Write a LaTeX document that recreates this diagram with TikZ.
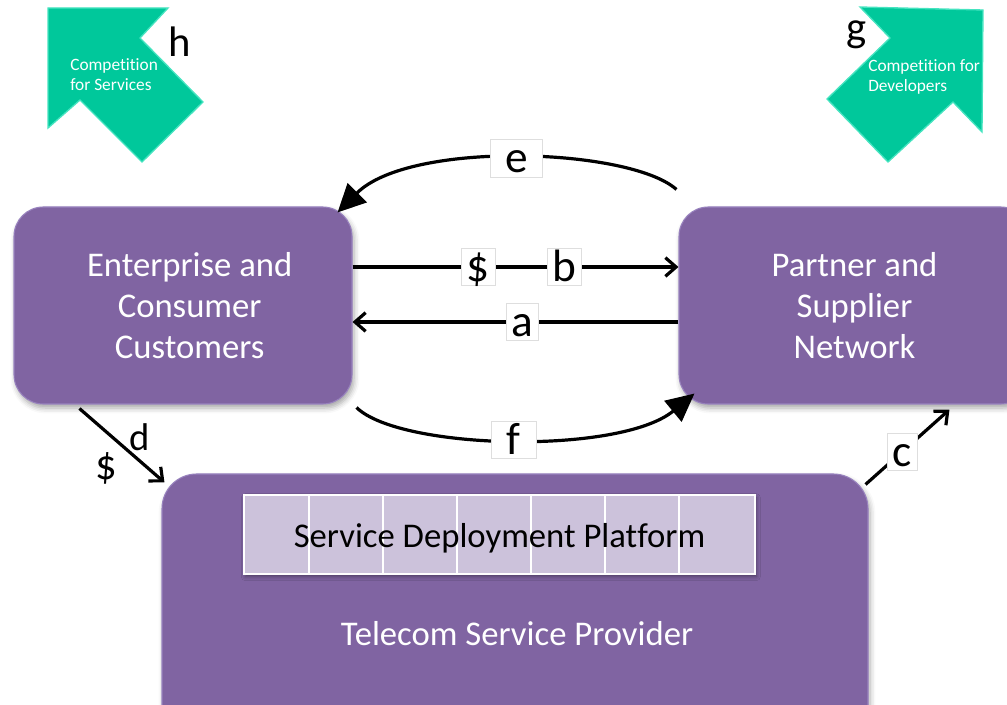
\documentclass[tikz,border=0pt]{standalone}
\usepackage{fontspec}
\setmainfont{Carlito}[Ligatures=NoCommon]
\usetikzlibrary{arrows.meta,calc,shadows.blur}

\definecolor{boxpurple}{RGB}{128,100,162}
\definecolor{boxrim}{RGB}{152,130,190}
\definecolor{platfill}{RGB}{204,194,219}
\definecolor{chevteal}{RGB}{0,200,155}
\definecolor{chevrim}{RGB}{70,228,192}
\definecolor{tagedge}{RGB}{222,222,222}

\begin{document}
\begin{tikzpicture}[x=0.75pt,y=-0.75pt,
  party/.style={draw=boxrim, line width=0.8pt, fill=boxpurple, rounded corners=22pt,
    text=white, font=\fontsize{26}{31}\selectfont, align=center, inner sep=0pt,
    blur shadow={shadow xshift=1.5pt, shadow yshift=-3pt, shadow blur radius=4pt, shadow opacity=35}},
  flow/.style={line width=2.4pt, -{Straight Barb[length=8pt,width=14pt]}},
  bigflow/.style={line width=2.4pt, -{Triangle[length=21pt,width=20pt]}},
  tag/.style={fill=white, draw=tagedge, line width=0.4pt, inner xsep=4pt, inner ysep=1pt,
    text height=24pt, text depth=2pt, font=\fontsize{34}{34}\selectfont},
  plain/.style={inner sep=0pt, font=\fontsize{32}{32}\selectfont},
  chevron/.style={fill=chevteal, draw=chevrim, line width=1pt, line join=miter},
  chevtext/.style={text=white, align=left, anchor=west, inner sep=0pt, font=\fontsize{13}{15}\selectfont},
]
\useasboundingbox (0,0) rectangle (1007,705);
\clip (0,0) rectangle (1007,705);

% competition chevrons
\draw[chevron] (48,8) -- (168,8) -- (140,38) -- (203,102) -- (142,162) -- (80,100) -- (48,128) -- cycle;
\draw[chevron] (860,7) -- (983,10) -- (982,132) -- (953,102) -- (888,162) -- (827,99) -- (890,38) -- cycle;
\node[chevtext] (servtxt) at (70,75) {Competition\\for Services};
\node[chevtext] (devtxt) at (868,77) {Competition for\\Developers};
\node[plain] (h) at (180,42) {h};
\node[plain] (g) at (857,35) {g};

% the three parties
\node[party, minimum width=253.5pt, minimum height=147.75pt] (ent) at (183,305.5)
  {\hspace*{10pt}Enterprise and\\\hspace*{10pt}Consumer\\\hspace*{10pt}Customers};
\node[party, minimum width=263.25pt, minimum height=147.75pt] (psn) at (854.5,305.5)
  {Partner and\\Supplier\\Network};
\node[party, rounded corners=26pt, minimum width=529.5pt, minimum height=199.5pt] (tsp) at (515,607) {};
\node[text=white, font=\fontsize{26}{31}\selectfont] (tsptxt) at (517,634) {Telecom Service Provider};

% service deployment platform with its seven slots
\node[fill=platfill, draw=white, line width=1.5pt, inner sep=0pt,
  minimum width=383.25pt, minimum height=59.25pt,
  blur shadow={shadow xshift=1pt, shadow yshift=-2pt, shadow blur radius=3pt, shadow opacity=40}]
  (plat) at (499.5,534.5) {};
\foreach \cx in {309,383,457,531,605,679}
  \draw[white, line width=1.2pt] (\cx,495) -- (\cx,574);
\node[font=\fontsize{26}{31}\selectfont] (plattxt) at ($(plat.center)+(0,4)$) {Service Deployment Platform};

% flows between the parties
\draw[flow] ($(ent.east)+(0,-38.5)$) -- node[tag,pos=0.385]{\$} node[tag,pos=0.65]{b}
  ($(psn.west)+(0,-38.5)$);
\draw[flow] ($(psn.west)+(0,16.5)$) -- node[tag,pos=0.48]{a} ($(ent.east)+(0,16.5)$);
\draw[bigflow] ($(psn.north west)+(-2,-17)$) .. controls (630,148) and (410,140) ..
  ($(ent.north east)+(-15,6)$) node[tag,pos=0.5,minimum width=39pt]{e};
\draw[bigflow] ($(ent.south east)+(4,3)$) .. controls (400,450) and (620,455) ..
  ($(psn.south west)+(16,-11)$) node[tag,pos=0.5,minimum width=34pt]{f};
\draw[flow] ($(ent.south west)+(66,4)$) --
  node[pos=0.5, xshift=13pt, yshift=6pt, inner sep=0pt, font=\fontsize{29}{29}\selectfont]{d}
  node[pos=0.5, xshift=-11.5pt, yshift=-17pt, inner sep=0pt, font=\fontsize{32}{32}\selectfont]{\$}
  ($(tsp.north west)+(3,9)$);
\draw[flow] ($(tsp.north east)+(-3,11)$) -- node[tag,pos=0.44]{c} ($(psn.south west)+(271,5)$);
\end{tikzpicture}
\end{document}
